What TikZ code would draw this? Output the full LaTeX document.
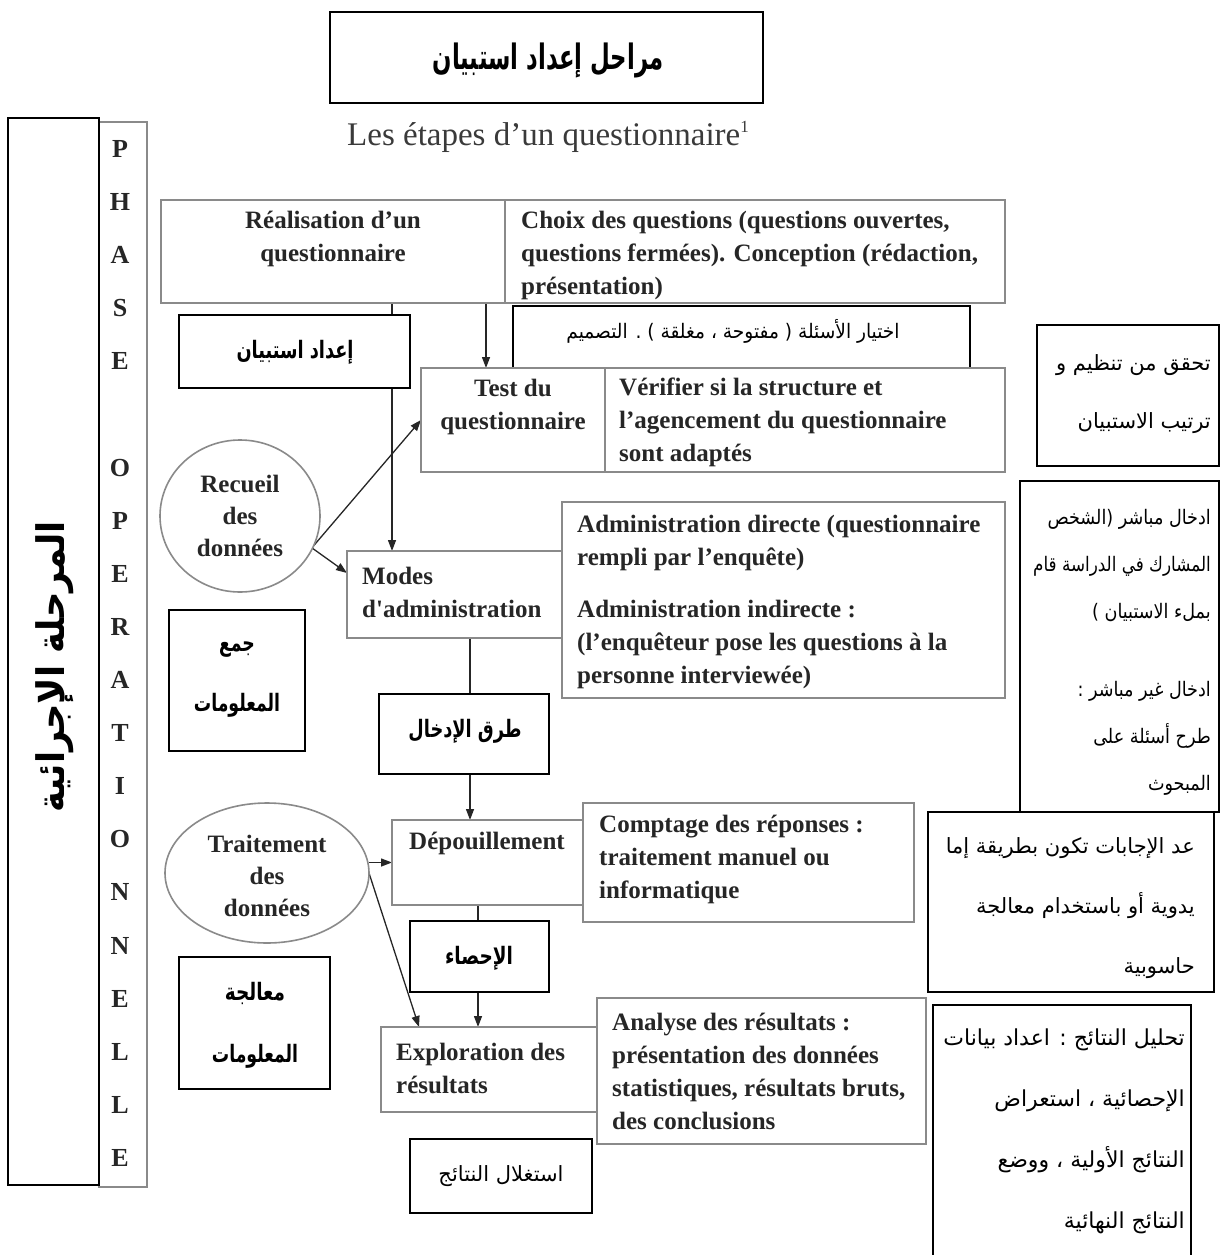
\documentclass[tikz,border=0pt]{standalone}
\usepackage{fontspec}
\usepackage{graphicx}
\setmainfont{Liberation Serif}
\newfontfamily\arabicfont[Script=Arabic]{DejaVu Sans}
\TeXXeTstate=1
\usetikzlibrary{arrows.meta,shapes.geometric,backgrounds}
\definecolor{framegray}{HTML}{8A8A8A}
\definecolor{inkgray}{HTML}{262626}
\definecolor{subgray}{HTML}{3A3A3A}
% condensed text: horizontal factor, content
\newcommand{\narrow}[2]{\scalebox{#1}[1]{#2}}

\begin{document}
\begin{tikzpicture}[x=1pt,y=-1pt,
  gbox/.style={draw=framegray,line width=1.6pt,fill=white,inner sep=0pt,outer sep=0pt},
  kbox/.style={draw=black,line width=1.8pt,fill=white,inner sep=0pt,outer sep=0pt},
  goval/.style={ellipse,draw=framegray,line width=1.6pt,fill=white,inner sep=0pt,outer sep=0pt},
  frtxt/.style={inner sep=0pt,text=inkgray,font=\fontsize{25}{33}\selectfont\bfseries},
  arlabel/.style={inner sep=0pt,font=\arabicfont\fontsize{24}{28}\selectfont\bfseries},
  conn/.style={draw=black!85,line width=1.3pt},
  arr/.style={conn,-{Triangle[length=11pt,width=8pt]}}]

\begin{scope}[on background layer]
  \fill[white] (0,0) rectangle (1221,1255);
\end{scope}
\useasboundingbox (0,0) rectangle (1221,1255);

% heading
\node[kbox,minimum width=433,minimum height=91] (titlebox) at (546.5,57.5) {};
\node[inner sep=0pt,font=\arabicfont\fontsize{35}{40}\selectfont\bfseries] (titletext) at (548,60)
  {\narrow{0.65}{\beginR مراحل إعداد استبيان\endR}};
\node[inner sep=0pt,text=subgray,font=\fontsize{33}{40}\selectfont] (subtitle) at (548,137)
  {Les étapes d’un questionnaire\raisebox{13pt}{\fontsize{17}{20}\selectfont 1}};

% side columns
\node[gbox,minimum width=48,minimum height=1065] (phasecol) at (123,654.5) {};
\node[kbox,minimum width=91,minimum height=1067] (phasear) at (53.5,651.5) {};
\node[rotate=90,inner sep=0pt,font=\arabicfont\fontsize{38}{40}\selectfont\bfseries] (phasearT) at (55,667)
  {\narrow{0.93}{\beginR المرحلة الإجرائية\endR}};
\node[inner sep=0pt,align=center,text=inkgray,font=\fontsize{26}{53.1}\selectfont\bfseries] (phaseT) at (120,653.5)
  {P\\H\\A\\S\\E\\[53.1pt]O\\P\\E\\R\\A\\T\\I\\O\\N\\N\\E\\L\\L\\E};

% design stage
\node[gbox,minimum width=344,minimum height=103] (real) at (333,251.5) {};
\node[frtxt,align=center] (realT) at (333,239) {Réalisation d’un\\questionnaire};
\node[gbox,minimum width=500,minimum height=103] (choix) at (755,251.5) {};
\node[frtxt,align=left,anchor=west] (choixT) at (521,255) {Choix des questions (questions ouvertes,\\questions fermées). Conception (rédaction,\\présentation)};
\node[kbox,minimum width=231,minimum height=73] (idad) at (294.5,351.5) {};
\node[arlabel] (idadT) at (295,352) {\narrow{0.74}{\beginR إعداد استبيان\endR}};
\node[kbox,minimum width=457,minimum height=65] (choixar) at (741.5,338.5) {};
\node[inner sep=0pt,font=\arabicfont\fontsize{20}{24}\selectfont] (choixarT) at (733,331)
  {\narrow{0.93}{\beginR اختيار الأسئلة ( مفتوحة ، مغلقة ) . التصميم\endR}};
\node[gbox,minimum width=184,minimum height=104] (test) at (513,420) {};
\node[frtxt,align=center] (testT) at (513,407) {Test du\\questionnaire};
\node[gbox,minimum width=400,minimum height=104] (verif) at (805,420) {};
\node[frtxt,align=left,anchor=west] (verifT) at (619,422) {Vérifier si la structure et\\l’agencement du questionnaire\\sont adaptés};
\node[kbox,minimum width=182,minimum height=141] (tahaqquq) at (1128,395.5) {};
\node[inner sep=0pt,align=right,anchor=east,font=\arabicfont\fontsize{21}{58}\selectfont] (tahaqquqT) at (1211,394)
  {\beginR تحقق من تنظيم و\endR\\\beginR ترتيب الاستبيان\endR};

% data collection
\node[goval,minimum width=160,minimum height=152] (recueil) at (240,516) {};
\node[frtxt,align=center,font=\fontsize{25}{32}\selectfont\bfseries] (recueilT) at (240,516) {Recueil\\des\\données};
\node[gbox,minimum width=215,minimum height=87] (modes) at (454.5,594.5) {};
\node[frtxt,align=left,anchor=west] (modesT) at (362,592) {Modes\\d\textquotesingle administration};
\node[gbox,minimum width=443,minimum height=196] (admin) at (783.5,600) {};
\node[frtxt,align=left,anchor=west] (adminT) at (577,602) {Administration directe (questionnaire\\rempli par l’enquête)\\[19pt]Administration indirecte :\\(l’enquêteur pose les questions à la\\personne interviewée)};
\node[kbox,minimum width=199,minimum height=331] (idkhal) at (1119.5,646.5) {};
\node[inner sep=0pt,align=right,anchor=east,font=\arabicfont\fontsize{20}{47}\selectfont] (idkhalT) at (1211,652)
  {\narrow{0.88}{\beginR ادخال مباشر (الشخص\endR}\\
   \narrow{0.84}{\beginR المشارك في الدراسة قام\endR}\\
   \narrow{0.88}{\beginR بملء الاستبيان )\endR}\\[31pt]
   \narrow{0.88}{\beginR ادخال غير مباشر :\endR}\\
   \narrow{0.88}{\beginR طرح أسئلة على\endR}\\
   \narrow{0.88}{\beginR المبحوث\endR}};
\node[kbox,minimum width=136,minimum height=141] (jam) at (237,680.5) {};
\node[arlabel,align=center,font=\arabicfont\fontsize{24}{60}\selectfont\bfseries] (jamT) at (237,680)
  {\narrow{0.72}{\beginR جمع\endR}\\\narrow{0.72}{\beginR المعلومات\endR}};
\node[kbox,minimum width=170,minimum height=80] (turuq) at (464,734) {};
\node[arlabel] (turuqT) at (465,731) {\narrow{0.74}{\beginR طرق الإدخال\endR}};

% data processing
\node[goval,minimum width=204,minimum height=140] (trait) at (267,873) {};
\node[frtxt,align=center,font=\fontsize{25}{32}\selectfont\bfseries] (traitT) at (267,876) {Traitement\\des\\données};
\node[gbox,minimum width=191,minimum height=85] (depo) at (487.5,862.5) {};
\node[frtxt] (depoT) at (487,843) {Dépouillement};
\node[gbox,minimum width=331,minimum height=119] (comptage) at (748.5,862.5) {};
\node[frtxt,align=left,anchor=west] (comptageT) at (599,859) {Comptage des réponses :\\traitement manuel ou\\informatique};
\node[kbox,minimum width=286,minimum height=180] (add) at (1071,902) {};
\node[inner sep=0pt,align=right,anchor=east,font=\arabicfont\fontsize{21}{60}\selectfont] (addT) at (1195,908)
  {\beginR عد الإجابات تكون بطريقة إما\endR\\\beginR يدوية أو باستخدام معالجة\endR\\\beginR حاسوبية\endR};
\node[kbox,minimum width=139,minimum height=71] (ihsa) at (479.5,956.5) {};
\node[arlabel] (ihsaT) at (479,958) {\narrow{0.77}{\beginR الإحصاء\endR}};
\node[kbox,minimum width=151,minimum height=132] (muala) at (254.5,1023) {};
\node[arlabel,align=center,font=\arabicfont\fontsize{24}{62}\selectfont\bfseries] (mualaT) at (255,1025)
  {\narrow{0.77}{\beginR معالجة\endR}\\\narrow{0.72}{\beginR المعلومات\endR}};
\node[gbox,minimum width=216,minimum height=85] (explo) at (489,1069.5) {};
\node[frtxt,align=left,anchor=west] (exploT) at (396,1068) {Exploration des\\résultats};
\node[gbox,minimum width=329,minimum height=146] (analyse) at (761.5,1071) {};
\node[frtxt,align=left,anchor=west] (analyseT) at (612,1071) {Analyse des résultats :\\présentation des données\\statistiques, résultats bruts,\\des conclusions};
\node[kbox,minimum width=258,minimum height=262] (tahlil) at (1062,1136) {};
\node[inner sep=0pt,align=right,anchor=east,font=\arabicfont\fontsize{22}{61}\selectfont] (tahlilT) at (1185,1131)
  {\beginR تحليل النتائج : اعداد بيانات\endR\\\beginR الإحصائية ، استعراض\endR\\\beginR النتائج الأولية ، ووضع\endR\\\beginR النتائج النهائية\endR};
\node[kbox,minimum width=182,minimum height=74] (istighlal) at (501,1176) {};
\node[inner sep=0pt,font=\arabicfont\fontsize{21}{26}\selectfont] (istighlalT) at (501,1176) {\beginR استغلال النتائج\endR};

% connectors
\coordinate (xa) at (392,0);
\coordinate (xb) at (486,0);
\coordinate (xc) at (470,0);
\coordinate (xd) at (478,0);
\begin{scope}[on background layer]
  \draw[arr] (real.south -| xa) -- (modes.north -| xa);
  \draw[arr] (real.south -| xb) -- (test.north -| xb);
  \draw[arr] (recueil.-22) -- (test.west);
  \draw[arr] (recueil.-24) -- ([yshift=-22pt]modes.north west);
  \draw[conn] (modes.south -| xc) -- (turuq.north -| xc);
  \draw[arr] (turuq.south -| xc) -- (depo.north -| xc);
  \draw[arr] (trait.east |- depo.west) -- (depo.west);
  \draw[arr] (trait.east) -- ([xshift=38pt]explo.north west);
  \draw[conn] (depo.south -| xd) -- (ihsa.north -| xd);
  \draw[arr] (ihsa.south -| xd) -- (explo.north -| xd);
\end{scope}
\end{tikzpicture}
\end{document}
